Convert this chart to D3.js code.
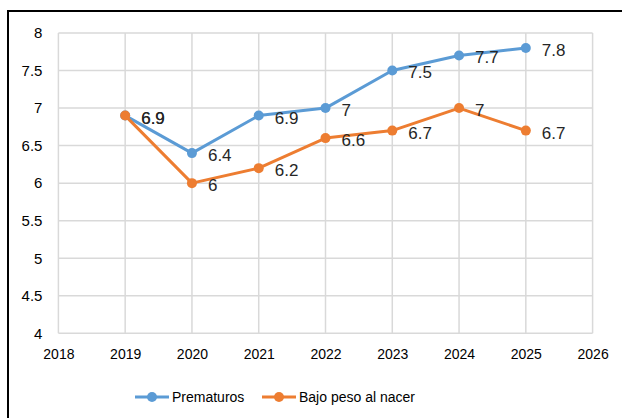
<!DOCTYPE html>
<html>
<head>
<meta charset="utf-8">
<script src="https://cdn.jsdelivr.net/npm/d3@7"></script>
<style>
  body { margin: 0; background: #fff; }
  text { font-family: "Liberation Sans", Arial, sans-serif; }
</style>
</head>
<body>
<div id="chart"></div>
<script>
// chart data
var years = [2019, 2020, 2021, 2022, 2023, 2024, 2025];
var prematuros = [6.9, 6.4, 6.9, 7, 7.5, 7.7, 7.8];
var bajoPeso = [6.9, 6, 6.2, 6.6, 6.7, 7, 6.7];
var xTicks = [2018, 2019, 2020, 2021, 2022, 2023, 2024, 2025, 2026];
var yTicks = [4, 4.5, 5, 5.5, 6, 6.5, 7, 7.5, 8];
var seriesNames = ["Prematuros", "Bajo peso al nacer"];
var colors = ["#5B9BD5", "#ED7D31"];

var W = 622, H = 418;

var svg = d3.select("#chart")
    .append("svg")
    .attr("width", W)
    .attr("height", H);

// outer frame (clipped at right / bottom like the source image)
svg.append("rect")
    .attr("x", 8)
    .attr("y", 11)
    .attr("width", W + 10)
    .attr("height", H + 10)
    .attr("fill", "none")
    .attr("stroke", "#000")
    .attr("stroke-width", 2);

var x = d3.scaleLinear().domain([2018, 2026]).range([58.4, 592.6]);
var y = d3.scaleLinear().domain([4, 8]).range([333.3, 33]);

var g = svg.append("g");

// gridlines
g.selectAll(".hgrid")
    .data(yTicks)
    .enter().append("line")
    .attr("x1", x(2018))
    .attr("x2", x(2026))
    .attr("y1", function(d) { return y(d); })
    .attr("y2", function(d) { return y(d); })
    .style("stroke", "#d9d9d9")
    .style("stroke-width", 1.5);

g.selectAll(".vgrid")
    .data(xTicks)
    .enter().append("line")
    .attr("x1", function(d) { return x(d); })
    .attr("x2", function(d) { return x(d); })
    .attr("y1", y(4))
    .attr("y2", y(8))
    .style("stroke", "#d9d9d9")
    .style("stroke-width", 1.5);

// axes (labels only)
var yAxis = g.append("g")
    .attr("transform", "translate(" + x(2018) + ",0)")
    .call(d3.axisLeft(y).tickValues(yTicks).tickSize(0).tickPadding(16)
        .tickFormat(function(d) { return String(d); }));
yAxis.select(".domain").remove();
yAxis.selectAll("text")
    .style("font-size", "15px")
    .style("fill", "#000")
    .style("font-family", "'Liberation Sans', Arial, sans-serif");

var xAxis = g.append("g")
    .attr("transform", "translate(0," + y(4) + ")")
    .call(d3.axisBottom(x).tickValues(xTicks).tickSize(0).tickPadding(16)
        .tickFormat(d3.format("d")));
xAxis.select(".domain").remove();
xAxis.selectAll("text")
    .style("font-size", "14px")
    .style("fill", "#000")
    .style("font-family", "'Liberation Sans', Arial, sans-serif");

// series
var series = [prematuros, bajoPeso];
var line = d3.line()
    .x(function(d, i) { return x(years[i]); })
    .y(function(d) { return y(d); });

series.forEach(function(vals, s) {
  g.append("path")
      .datum(vals)
      .attr("d", line)
      .attr("fill", "none")
      .attr("stroke", colors[s])
      .attr("stroke-width", 3)
      .attr("stroke-linejoin", "round");

  g.selectAll(".pt" + s)
      .data(vals)
      .enter().append("circle")
      .attr("cx", function(d, i) { return x(years[i]); })
      .attr("cy", function(d) { return y(d); })
      .attr("r", 5)
      .attr("fill", colors[s]);
});

// data labels
series.forEach(function(vals, s) {
  g.selectAll(".lbl" + s)
      .data(vals)
      .enter().append("text")
      .attr("x", function(d, i) { return x(years[i]) + 16; })
      .attr("y", function(d) { return y(d) + 2; })
      .attr("dy", "0.35em")
      .style("font-size", "17px")
      .style("fill", "#262626")
      .text(function(d) { return String(d); });
});

// legend
var legend = svg.append("g");
var legX = [135, 262];
seriesNames.forEach(function(name, s) {
  legend.append("line")
      .attr("x1", legX[s])
      .attr("x2", legX[s] + 34)
      .attr("y1", 397)
      .attr("y2", 397)
      .attr("stroke", colors[s])
      .attr("stroke-width", 3);
  legend.append("circle")
      .attr("cx", legX[s] + 17)
      .attr("cy", 397)
      .attr("r", 5)
      .attr("fill", colors[s]);
  legend.append("text")
      .attr("x", legX[s] + 37)
      .attr("y", 397)
      .attr("dy", "0.35em")
      .style("font-size", "14px")
      .style("fill", "#000")
      .text(name);
});
</script>
</body>
</html>
